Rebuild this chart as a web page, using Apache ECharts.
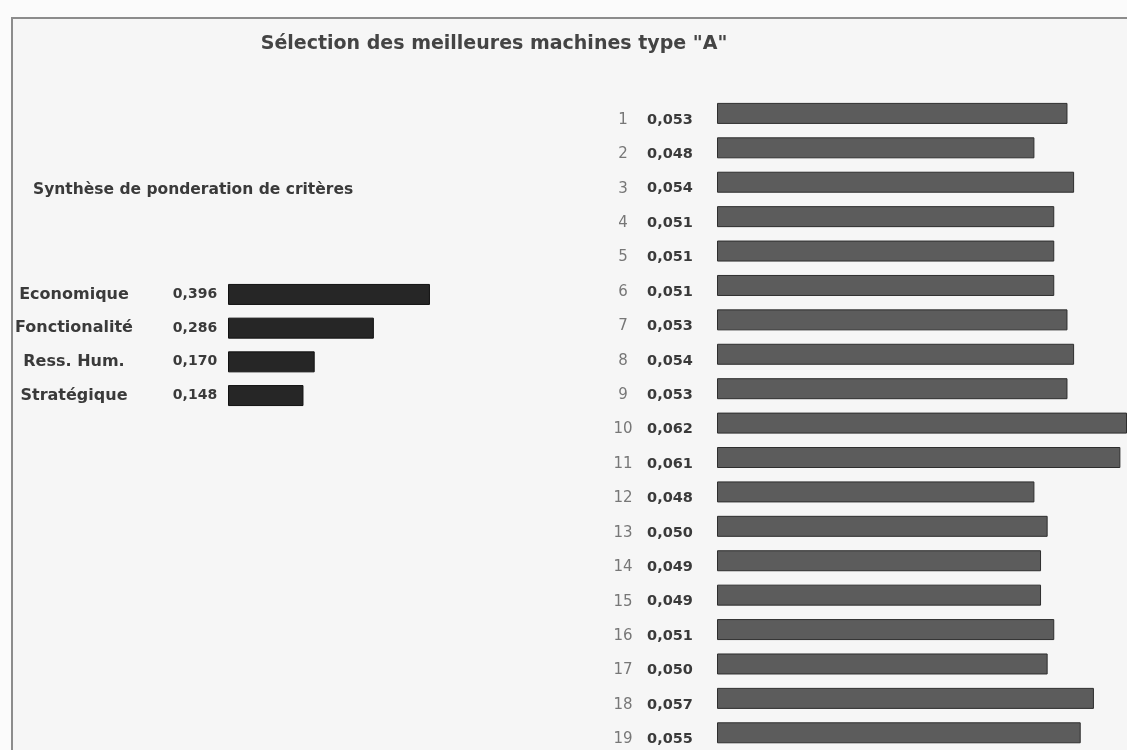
<!DOCTYPE html>
<html>
<head>
<meta charset="utf-8">
<script src="https://cdn.jsdelivr.net/npm/echarts@6/dist/echarts.min.js"></script>
<style>
    html, body { margin: 0; padding: 0; background: #fbfbfb; }
    #chart { width: 1127px; height: 750px; }
</style>
</head>
<body>
<div id="chart"></div>
<script>
// criteria weights (left block)
var criteria = ['Economique', 'Fonctionalité', 'Ress. Hum.', 'Stratégique'];
var criteriaWeights = [0.396, 0.286, 0.170, 0.148];

// machine scores (right block)
var machines = ['1', '2', '3', '4', '5', '6', '7', '8', '9', '10', '11', '12', '13', '14', '15', '16', '17', '18', '19'];
var machineScores = [0.053, 0.048, 0.054, 0.051, 0.051, 0.051, 0.053, 0.054, 0.053, 0.062,
    0.061, 0.048, 0.050, 0.049, 0.049, 0.051, 0.050, 0.057, 0.055];

function fmt(v) {
    return v.toFixed(3).replace('.', ',');
}

var chartDom = document.getElementById('chart');
var myChart = echarts.init(chartDom);
var option;

option = {
    backgroundColor: '#fbfbfb',
    animation: false,
    graphic: [
        {
            type: 'rect',
            z: -10,
            shape: { x: 12, y: 18, width: 1200, height: 800 },
            style: { fill: '#f6f6f6', stroke: '#8c8c8c', lineWidth: 2 }
        },
        {
            type: 'text',
            left: 33,
            top: 182,
            style: {
                text: 'Synthèse de ponderation de critères',
                font: 'bold 15.5px "DejaVu Sans"',
                fill: '#3a3a3a'
            }
        }
    ],
    title: {
        text: 'Sélection des meilleures machines type "A"',
        left: 489,
        textAlign: 'center',
        top: 30,
        textStyle: {
            fontFamily: 'DejaVu Sans',
            fontSize: 19,
            fontWeight: 'bold',
            color: '#444'
        }
    },
    grid: [
        { left: 228, top: 277.6, width: 204, height: 134.8 },
        { left: 717, top: 96.2, width: 411, height: 658 }
    ],
    xAxis: [
        { type: 'value', gridIndex: 0, min: 0, max: 0.4, show: false },
        { type: 'value', gridIndex: 1, min: 0, max: 0.062, show: false }
    ],
    yAxis: [
        {
            type: 'category',
            gridIndex: 0,
            inverse: true,
            data: criteria,
            axisLine: { show: false },
            axisTick: { show: false },
            axisLabel: {
                margin: 11,
                formatter: function (value, index) {
                    return '{n|' + value + '}{v|' + fmt(criteriaWeights[index]) + '}';
                },
                rich: {
                    n: { width: 116, align: 'center', fontFamily: 'DejaVu Sans', fontWeight: 'bold', fontSize: 16, color: '#3a3a3a' },
                    v: { width: 44, align: 'left', padding: [0, 0, 0, 41], fontFamily: 'DejaVu Sans', fontWeight: 'bold', fontSize: 14, color: '#3a3a3a' }
                }
            }
        },
        {
            type: 'category',
            gridIndex: 1,
            inverse: true,
            data: machines,
            axisLine: { show: false },
            axisTick: { show: false },
            axisLabel: {
                margin: 24,
                formatter: function (value, index) {
                    return '{i|' + value + '}{v|' + fmt(machineScores[index]) + '}';
                },
                rich: {
                    i: { width: 30, align: 'right', padding: [13, 0, 0, 0], fontFamily: 'DejaVu Sans', fontSize: 15, color: '#777' },
                    v: { width: 46, align: 'left', padding: [13, 0, 0, 9], fontFamily: 'DejaVu Sans', fontWeight: 'bold', fontSize: 14.5, color: '#3a3a3a' }
                }
            }
        }
    ],
    series: [
        {
            type: 'bar',
            xAxisIndex: 0,
            yAxisIndex: 0,
            barWidth: 21,
            data: criteriaWeights,
            itemStyle: { color: '#262626', borderColor: '#111', borderWidth: 1 }
        },
        {
            type: 'bar',
            xAxisIndex: 1,
            yAxisIndex: 1,
            barWidth: 21,
            data: machineScores,
            itemStyle: { color: '#5c5c5c', borderColor: '#2e2e2e', borderWidth: 1 }
        }
    ]
};

option && myChart.setOption(option);
</script>
</body>
</html>
